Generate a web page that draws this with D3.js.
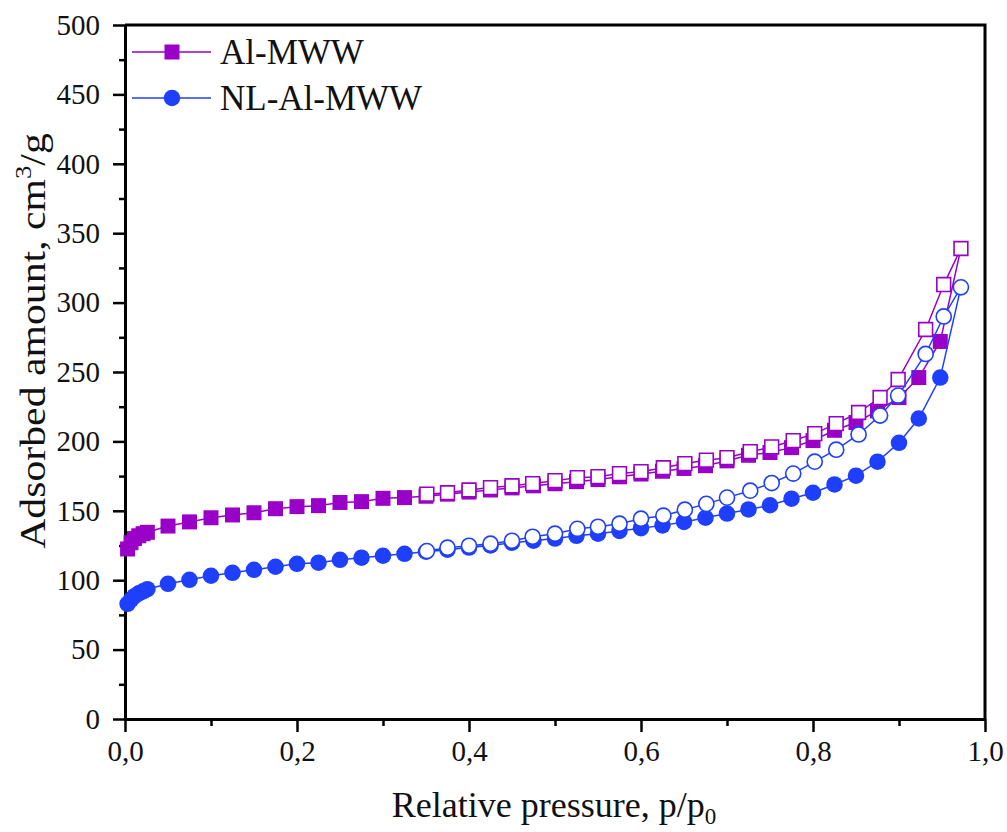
<!doctype html>
<html>
<head>
<meta charset="utf-8">
<script src="https://cdn.jsdelivr.net/npm/d3@7"></script>
<style>
  html, body { margin: 0; padding: 0; background: #fff; }
  svg { display: block; }
  svg text { font-family: "Liberation Serif", "Times New Roman", Tinos, "DejaVu Serif", serif; }
</style>
</head>
<body>
<script>
// Relative pressure grid, adsorption branch (shared by both samples)
const pAds = [0.003, 0.007, 0.011, 0.016, 0.021, 0.026, 0.05, 0.075, 0.1, 0.125, 0.15, 0.175, 0.2, 0.225,
  0.25, 0.275, 0.3, 0.325, 0.35, 0.375, 0.4, 0.425, 0.45, 0.475, 0.5, 0.525, 0.55, 0.575, 0.6, 0.625,
  0.65, 0.675, 0.7, 0.725, 0.75, 0.775, 0.8, 0.825, 0.85, 0.875, 0.9, 0.923, 0.948];
// Relative pressure grid, desorption branch
const pDes = [0.972, 0.952, 0.931, 0.899, 0.878, 0.853, 0.827, 0.802, 0.777, 0.752, 0.727, 0.70, 0.676,
  0.651, 0.626, 0.60, 0.575, 0.55, 0.526, 0.50, 0.474, 0.45, 0.425, 0.40, 0.375, 0.351];

const alAds = [122.5, 127, 130, 132, 133.5, 134.5, 139, 142, 145, 147, 148.6, 151.5, 153, 153.7, 156, 156.6,
  159, 159.5, 160.5, 162, 163.5, 165, 166.5, 168, 169.5, 171, 172.5, 174.5, 176.5, 178.5, 180.5, 182.5,
  186, 190, 192, 195.5, 200.6, 208, 213.6, 222, 231.6, 246, 272];
const alDes = [339, 313, 280.6, 244.6, 231.6, 220.8, 212.8, 205.6, 200.6, 196, 192.6, 188.3, 186.5, 184,
  181, 178.2, 176.8, 174.6, 173.9, 171.7, 169.6, 168, 166.7, 165, 163, 162];

const nlAds = [83, 86, 88.5, 90.5, 92, 93.5, 97.4, 100.3, 103.2, 105.3, 107.5, 109.7, 111.8, 112.6, 114.7,
  116.2, 117.6, 119, 120.5, 122, 123.5, 125, 127, 128.5, 130, 132, 133.5, 135.5, 137.5, 139.5, 142, 145,
  148, 151, 154, 158.7, 163, 169, 175.3, 185.4, 199, 216.5, 246];
const nlDes = [311, 290, 263, 233, 218.6, 205, 194, 185.4, 176.8, 170, 164.5, 159.5, 155, 150.8, 146.5,
  144.3, 140.7, 138.5, 137, 133.5, 131.3, 128.4, 126.3, 124.8, 123.4, 121];

const seriesNames = ["Al-MWW", "NL-Al-MWW"];
const xTicks = [0, 0.2, 0.4, 0.6, 0.8, 1.0];
const yTicks = [0, 50, 100, 150, 200, 250, 300, 350, 400, 450, 500];

const width = 1007, height = 832;
const plot = { left: 125, right: 985, top: 25, bottom: 719 };
const PURPLE = "#9900c8";
const BLUE = "#1f3fff";

const x = d3.scaleLinear().domain([0, 1]).range([plot.left, plot.right]);
const y = d3.scaleLinear().domain([0, 500]).range([plot.bottom, plot.top]);

const svg = d3.select("body").append("svg")
  .attr("width", width)
  .attr("height", height);

svg.append("rect").attr("width", width).attr("height", height).attr("fill", "#fff");

const fmt = (d) => d3.format(".1f")(d).replace(".", ",");

// minor ticks first (no labels)
svg.append("g")
  .attr("transform", `translate(0,${plot.bottom})`)
  .call(d3.axisBottom(x).tickValues(d3.range(0.1, 1, 0.2)).tickSize(7).tickFormat(""))
  .call((g) => g.select(".domain").remove())
  .call((g) => g.selectAll("line").attr("stroke", "#000").attr("stroke-width", 2.5));

svg.append("g")
  .attr("transform", `translate(${plot.left},0)`)
  .call(d3.axisLeft(y).tickValues(d3.range(25, 500, 50)).tickSize(6).tickFormat(""))
  .call((g) => g.select(".domain").remove())
  .call((g) => g.selectAll("line").attr("stroke", "#000").attr("stroke-width", 2.5));

// major axes
const xG = svg.append("g")
  .attr("transform", `translate(0,${plot.bottom})`)
  .call(d3.axisBottom(x).tickValues(xTicks).tickFormat(fmt).tickSize(13).tickSizeOuter(0).tickPadding(8));
xG.selectAll("line").attr("stroke", "#000").attr("stroke-width", 2.5);
xG.select(".domain").attr("stroke", "#000").attr("stroke-width", 3);
xG.selectAll("text").attr("fill", "#111").attr("font-size", 29);

const yG = svg.append("g")
  .attr("transform", `translate(${plot.left},0)`)
  .call(d3.axisLeft(y).tickValues(yTicks).tickSize(12).tickSizeOuter(0).tickPadding(13));
yG.selectAll("line").attr("stroke", "#000").attr("stroke-width", 2.5);
yG.select(".domain").attr("stroke", "#000").attr("stroke-width", 3);
yG.selectAll("text").attr("fill", "#111").attr("font-size", 29);

// top and right frame
svg.append("path")
  .attr("d", `M${plot.left},${plot.top}H${plot.right}V${plot.bottom}`)
  .attr("fill", "none").attr("stroke", "#000").attr("stroke-width", 3);

// data
const line = d3.line().x((d) => x(d[0])).y((d) => y(d[1]));
const zipPts = (ps, vs) => ps.map((p, i) => [p, vs[i]]);

function drawSeries(ads, des, color, shape) {
  const a = zipPts(pAds, ads);
  const d = zipPts(pDes, des);
  const g = svg.append("g");
  g.append("path").datum(a.concat(d))
    .attr("d", line).attr("fill", "none").attr("stroke", color).attr("stroke-width", 1.5);
  const sym = d3.symbol().type(shape);
  g.append("g").selectAll("path").data(a).join("path")
    .attr("transform", (p) => `translate(${x(p[0])},${y(p[1])})`)
    .attr("d", sym.size(shape === d3.symbolSquare ? 225 : 215))
    .attr("fill", color);
  g.append("g").selectAll("path").data(d).join("path")
    .attr("transform", (p) => `translate(${x(p[0])},${y(p[1])})`)
    .attr("d", sym.size(shape === d3.symbolSquare ? 190 : 180))
    .attr("fill", "#fff").attr("stroke", color).attr("stroke-width", 1.6);
}

drawSeries(alAds, alDes, PURPLE, d3.symbolSquare);
drawSeries(nlAds, nlDes, BLUE, d3.symbolCircle);

// legend
const legend = svg.append("g");
[[PURPLE, d3.symbolSquare, 52], [BLUE, d3.symbolCircle, 98]].forEach(([c, s, ly], i) => {
  legend.append("line").attr("x1", 132).attr("x2", 211).attr("y1", ly).attr("y2", ly)
    .attr("stroke", c).attr("stroke-width", 1.5);
  legend.append("path").attr("transform", `translate(172,${ly})`)
    .attr("d", d3.symbol().type(s).size(s === d3.symbolSquare ? 225 : 215)()).attr("fill", c);
  legend.append("text").attr("x", 220).attr("y", ly + 12).attr("font-size", 35)
    .attr("fill", "#111").text(seriesNames[i]);
});

// axis titles
const xt = svg.append("text")
  .attr("x", (plot.left + plot.right) / 2 - 1).attr("y", 817)
  .attr("text-anchor", "middle").attr("font-size", 36).attr("fill", "#111");
xt.append("tspan").text("Relative pressure, p/p");
xt.append("tspan").attr("font-size", 23).attr("dy", 7).text("0");

// y title looks stretched along its length in the original
const yt = svg.append("text")
  .attr("transform", "translate(45,341) rotate(-90) scale(1.16,1)")
  .attr("text-anchor", "middle").attr("font-size", 36).attr("fill", "#111");
yt.append("tspan").text("Adsorbed amount, cm");
yt.append("tspan").attr("font-size", 23).attr("dy", -14).text("3");
yt.append("tspan").attr("dy", 14).text("/g");
</script>
</body>
</html>
